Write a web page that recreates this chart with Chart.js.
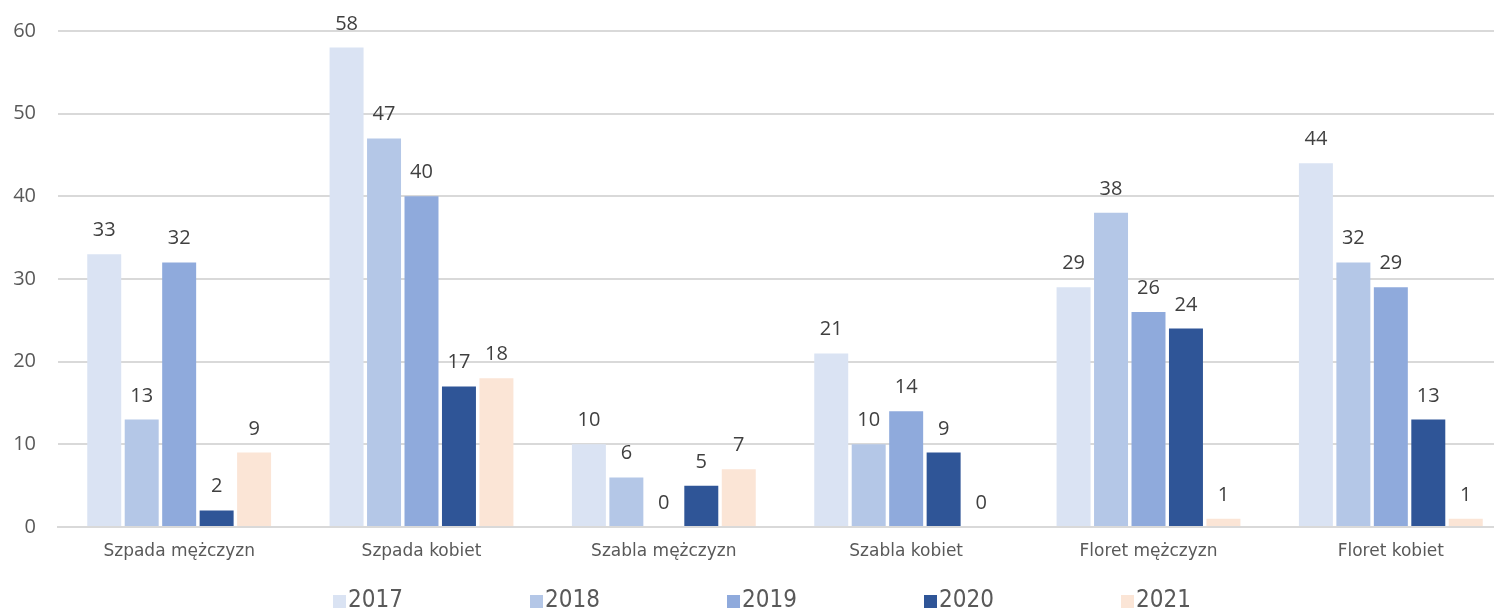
<!DOCTYPE html>
<html>
<head>
<meta charset="utf-8">
<script src="https://cdn.jsdelivr.net/npm/chart.js@4"></script>
<style>
  html, body { margin: 0; padding: 0; background: #fff; overflow: hidden; }
  #wrap { width: 1512px; height: 614px; position: relative; }
</style>
</head>
<body>
<div id="wrap"><canvas id="chart"></canvas></div>
<script>
const categories = ["Szpada mężczyzn", "Szpada kobiet", "Szabla mężczyzn", "Szabla kobiet", "Floret mężczyzn", "Floret kobiet"];
const years = ["2017", "2018", "2019", "2020", "2021"];
const v2017 = [33, 58, 10, 21, 29, 44];
const v2018 = [13, 47, 6, 10, 38, 32];
const v2019 = [32, 40, 0, 14, 26, 29];
const v2020 = [2, 17, 5, 9, 24, 13];
const v2021 = [9, 18, 7, 0, 1, 1];
const yTicks = [0, 10, 20, 30, 40, 50, 60];

const colors = ["#DAE3F3", "#B4C7E7", "#8FAADC", "#2F5597", "#FBE5D6"];
const series = [v2017, v2018, v2019, v2020, v2021];

// value labels above each bar
const valueLabels = {
  id: "valueLabels",
  afterDatasetsDraw(chart) {
    const ctx = chart.ctx;
    ctx.save();
    ctx.font = "20px 'Open Sans', sans-serif";
    ctx.fillStyle = "#404040";
    ctx.textAlign = "center";
    ctx.textBaseline = "alphabetic";
    chart.data.datasets.forEach((ds, i) => {
      chart.getDatasetMeta(i).data.forEach((bar, j) => {
        ctx.fillText(ds.data[j], bar.x, bar.y - 18);
      });
    });
    ctx.restore();
  }
};

// legend drawn by hand so the items can sit far apart
const wideLegend = {
  id: "wideLegend",
  afterDraw(chart) {
    const ctx = chart.ctx;
    ctx.save();
    ctx.font = "24px 'DejaVu Sans Condensed', 'DejaVu Sans', sans-serif";
    ctx.textBaseline = "middle";
    ctx.textAlign = "left";
    chart.data.datasets.forEach((ds, i) => {
      const x = 333 + i * 197;
      ctx.fillStyle = ds.backgroundColor;
      ctx.fillRect(x, 595, 13, 13);
      ctx.fillStyle = "#595959";
      ctx.fillText(ds.label, x + 15, 601);
    });
    ctx.restore();
  }
};

new Chart(document.getElementById("chart"), {
  type: "bar",
  data: {
    labels: categories,
    datasets: years.map((y, i) => ({
      label: y,
      data: series[i],
      backgroundColor: colors[i],
      categoryPercentage: 0.773,
      barPercentage: 0.907
    }))
  },
  options: {
    responsive: true,
    maintainAspectRatio: false,
    animation: false,
    layout: { padding: { top: 31, right: 0, left: 0, bottom: 37 } },
    scales: {
      x: {
        afterFit(scale) {
          scale.height = 50;
          scale.paddingLeft = 0;
          scale.paddingRight = 0;
        },
        grid: { display: false, drawTicks: false },
        border: { color: "#d9d9d9", width: 2 },
        ticks: {
          color: "#595959",
          font: { family: "'DejaVu Sans'", size: 17 },
          padding: 14
        }
      },
      y: {
        min: 0,
        max: 60,
        afterFit(scale) {
          scale.width = 58;
          scale.paddingTop = 0;
          scale.paddingBottom = 0;
        },
        afterBuildTicks(scale) { scale.ticks = yTicks.map(v => ({ value: v })); },
        grid: { color: "#d9d9d9", lineWidth: 2, drawTicks: false },
        border: { display: false },
        ticks: {
          color: "#595959",
          font: { family: "'Open Sans'", size: 20 },
          padding: 22
        }
      }
    },
    plugins: {
      legend: { display: false },
      tooltip: { enabled: false }
    }
  },
  plugins: [valueLabels, wideLegend]
});
</script>
</body>
</html>
